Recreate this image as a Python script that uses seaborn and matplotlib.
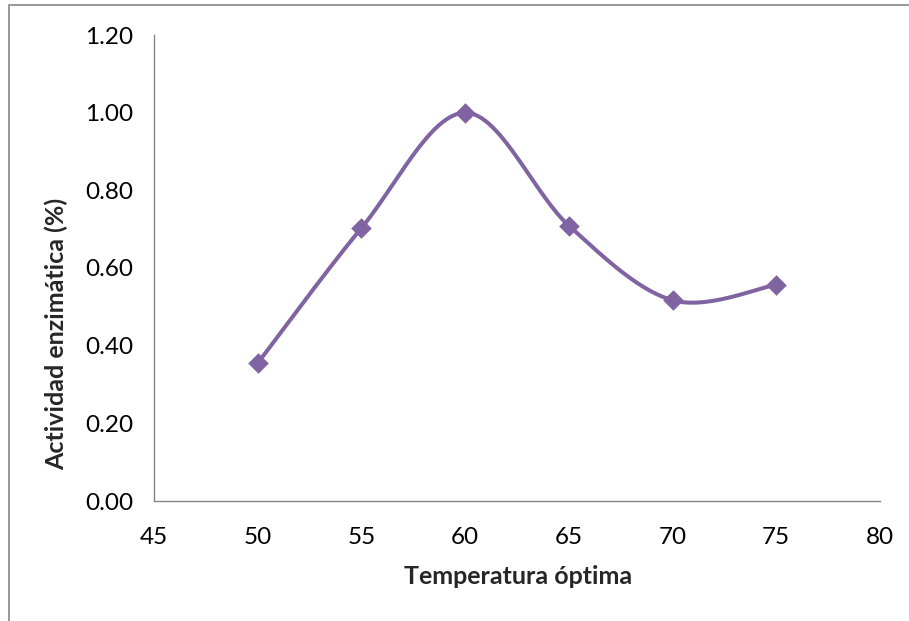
import numpy as np
import pandas as pd
import matplotlib
matplotlib.use("Agg")
import matplotlib.pyplot as plt
import seaborn as sns
from matplotlib.patches import Rectangle

# Data
temperatura = [50, 55, 60, 65, 70, 75]
actividad = [0.355, 0.703, 1.00, 0.709, 0.517, 0.557]
x_ticks = [45, 50, 55, 60, 65, 70, 75, 80]
y_ticks = [0.0, 0.2, 0.4, 0.6, 0.8, 1.0, 1.2]

sns.set_theme(style="white")
plt.rcParams['font.family'] = ['Lato', 'DejaVu Sans']

color = "#8064A2"

fig = plt.figure(figsize=(9.09, 6.21), dpi=100)
ax = fig.add_axes([154/909, 1 - 501/621, (880-154)/909, (501-35)/621])

# Excel-like smoothed line (Catmull-Rom Bezier rendering through the data points)
def smooth_curve(xs, ys, n=60):
    P = np.column_stack([xs, ys]).astype(float)
    pts = np.vstack([P[0], P, P[-1]])
    out = []
    t = np.linspace(0, 1, n)[:, None]
    for i in range(1, len(pts) - 2):
        p0, p1, p2, p3 = pts[i-1], pts[i], pts[i+1], pts[i+2]
        c1 = p1 + (p2 - p0) / 6
        c2 = p2 - (p3 - p1) / 6
        seg = ((1-t)**3)*p1 + 3*((1-t)**2)*t*c1 + 3*(1-t)*t**2*c2 + t**3*p2
        out.append(seg if i == 1 else seg[1:])
    arr = np.vstack(out)
    return arr[:, 0], arr[:, 1]

sx, sy = smooth_curve(temperatura, actividad)
ax.plot(sx, sy, color=color, lw=2.9, solid_capstyle='round', zorder=2)

df = pd.DataFrame({"Temperatura": temperatura, "Actividad": actividad})
sns.scatterplot(data=df, x="Temperatura", y="Actividad", ax=ax, marker="D",
                s=110, color=color, edgecolor=color, linewidth=0, zorder=3)

ax.set_xlim(45, 80)
ax.set_ylim(0, 1.2)
ax.set_xticks(x_ticks)
ax.set_xticklabels([str(v) for v in x_ticks])
ax.set_yticks(y_ticks)
ax.set_yticklabels([f"{v:.2f}" for v in y_ticks])
ax.tick_params(axis='both', length=0, labelsize=17.5, colors='black')
ax.tick_params(axis='x', pad=19)
ax.tick_params(axis='y', pad=15)

for s in ['top', 'right']:
    ax.spines[s].set_visible(False)
for s in ['left', 'bottom']:
    ax.spines[s].set_color('#868686')
    ax.spines[s].set_linewidth(1.0)

ax.set_xlabel("Temperatura óptima", fontsize=18, fontweight='bold')
ax.set_ylabel("Actividad enzimática (%)", fontsize=18, fontweight='bold')
ax.xaxis.set_label_coords((518 - 154) / 726, (501 - 565) / 466)
ax.yaxis.set_label_coords((68 - 154) / 726, (501 - 334) / 466)

# outer chart frame
fig.patches.append(Rectangle((8.5/909, -0.05), 1.2, 1 - 4.5/621 + 0.05,
                             transform=fig.transFigure, fill=False,
                             edgecolor='#868686', lw=1.2))

fig.savefig("out.png", dpi=100)
